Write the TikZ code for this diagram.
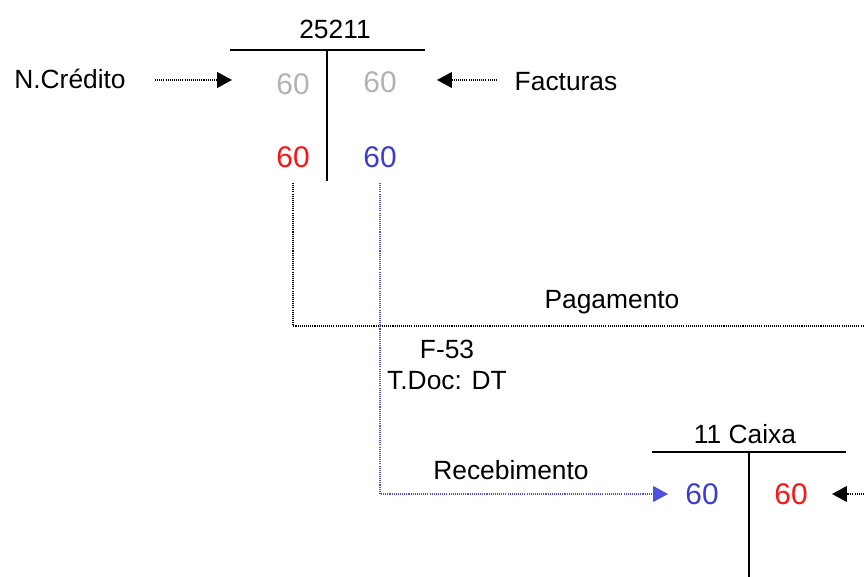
\documentclass[tikz,border=0pt]{standalone}
\usepackage{fontspec}
\setmainfont{Liberation Sans}
\usetikzlibrary{arrows.meta}
\definecolor{numgray}{RGB}{178,178,178}
\definecolor{numred}{RGB}{250,20,20}
\definecolor{numblue}{RGB}{60,60,210}
\definecolor{lineblue}{RGB}{80,80,225}
\begin{document}
\begin{tikzpicture}[x=0.02cm,y=-0.02cm,
  lbl/.style={font=\fontsize{15}{18}\selectfont, inner sep=0pt},
  num/.style={font=\fontsize{17}{20}\selectfont, inner sep=0pt},
  tline/.style={line width=1.2pt},
  dots/.style={dash pattern=on 0.6pt off 0.6pt, line width=0.85pt},
  tip/.style={-{Triangle[length=8.5pt,width=9pt]}}]
\useasboundingbox (0,0) rectangle (864,577);

% T account 25211
\node[lbl] (t1) at (335,29) {25211};
\coordinate (t1L) at (230,50);
\coordinate (t1R) at (425,50);
\coordinate (t1T) at (327,50);
\coordinate (t1B) at (327,181);
\draw[tline] (t1L) -- (t1R);
\draw[tline] (t1T) -- (t1B);
\node[num, text=numgray] (g1) at (293,84) {60};
\node[num, text=numgray] (g2) at (380,82) {60};
\node[num, text=numred] (r1) at (293,157) {60};
\node[num, text=numblue] (b1) at (380,157) {60};

% N.Credito / Facturas
\node[lbl] (nc) at (70,79) {N.Crédito};
\node[lbl] (fa) at (566,82) {Facturas};
\coordinate (ncA) at (155,80);
\coordinate (ncB) at (232,80);
\draw[dots, tip] (ncA) -- (ncB);
\coordinate (faA) at (497,80);
\coordinate (faB) at (437,80);
\draw[dots, tip] (faA) -- (faB);

% Pagamento
\coordinate (pg1) at (293,183);
\coordinate (pg2) at (293,326);
\coordinate (pg3) at (864,326);
\draw[dots] (pg1) -- (pg2) -- (pg3);
\node[lbl] (pag) at (612,302) {Pagamento};

% Recebimento
\coordinate (rc1) at (380,183);
\coordinate (rc2) at (380,494);
\coordinate (rc3) at (668,494);
\draw[dots, lineblue, tip] (rc1) -- (rc2) -- (rc3);
\node[lbl] (rec) at (511,470) {Recebimento};

\node[lbl] (f53) at (447,349) {F-53};
\node[lbl] (tdoc) at (447,381) {T.Doc: DT};

% T account 11 Caixa
\node[lbl] (t2) at (745,434) {11 Caixa};
\coordinate (t2L) at (652,452);
\coordinate (t2R) at (846,452);
\coordinate (t2T) at (749,452);
\coordinate (t2B) at (749,577);
\draw[tline] (t2L) -- (t2R);
\draw[tline] (t2T) -- (t2B);
\node[num, text=numblue] (b2) at (702,494) {60};
\node[num, text=numred] (r2) at (791,494) {60};
\coordinate (cxA) at (864,494);
\coordinate (cxB) at (832,494);
\draw[dots, tip] (cxA) -- (cxB);
\end{tikzpicture}
\end{document}
